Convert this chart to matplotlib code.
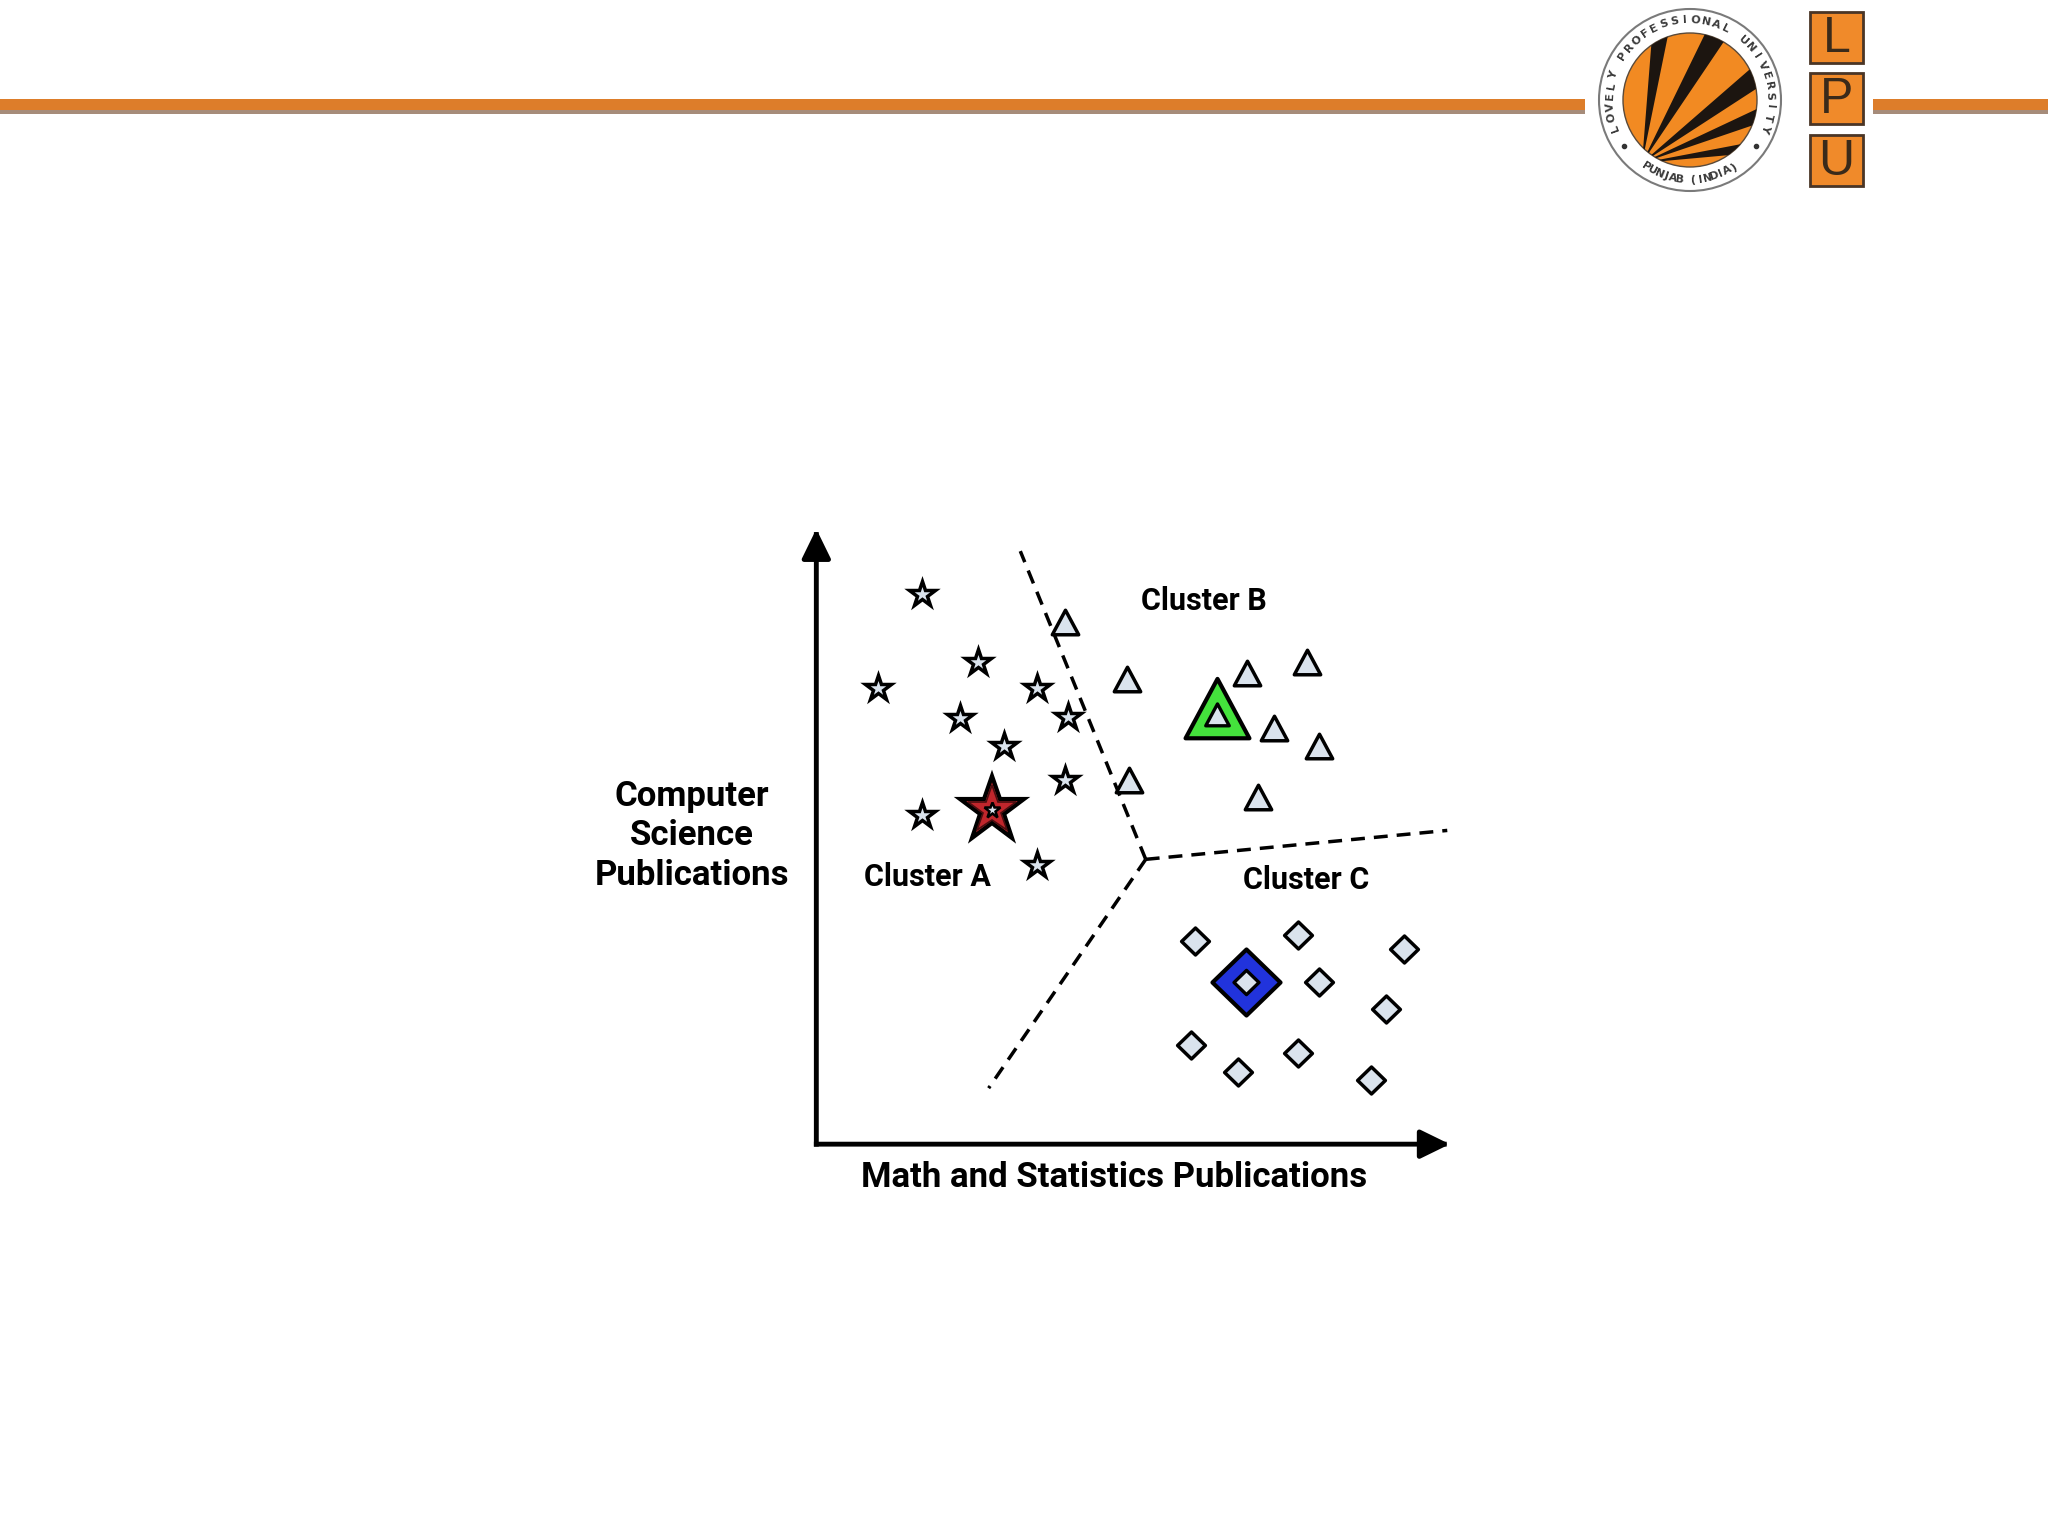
import numpy as np
import matplotlib
matplotlib.use("Agg")
import matplotlib.pyplot as plt
from matplotlib.patches import Circle, Polygon, Rectangle
from matplotlib.path import Path
from matplotlib.markers import MarkerStyle

plt.rcParams['font.family'] = ['Roboto', 'DejaVu Sans']

# Cluster A (stars)
star_x = [1.67, 2.56, 0.97, 3.48, 2.27, 3.98, 2.97, 3.92, 1.67, 3.48]
star_y = [8.94, 7.83, 7.41, 7.41, 6.92, 6.94, 6.48, 5.92, 5.35, 4.54]
# Cluster B (triangles)
tri_x = [3.92, 4.91, 6.80, 7.75, 7.22, 7.94, 4.93, 6.97]
tri_y = [8.49, 7.56, 7.66, 7.83, 6.77, 6.48, 5.92, 5.65]
# Cluster C (diamonds)
dia_x = [5.98, 7.61, 9.28, 7.94, 8.99, 5.92, 6.66, 7.61, 8.76]
dia_y = [3.31, 3.40, 3.18, 2.63, 2.19, 1.61, 1.17, 1.49, 1.04]
# centroids A, B, C
centroid_x = [2.78, 6.33, 6.78]
centroid_y = [5.43, 6.92, 2.63]
# boundaries between clusters (from a common junction)
junction = (5.20, 4.63)
boundary_x = [3.22, 9.96, 2.72]
boundary_y = [9.64, 5.10, 0.91]

cluster_labels = ["Cluster A", "Cluster B", "Cluster C"]
xlabel = "Math and Statistics Publications"
ylabel = "Computer\nScience\nPublications"

LIGHT = '#dae3ed'

fig = plt.figure(figsize=(20.48, 15.36), dpi=100)

# ---- header band + logo (pixel coordinates) ----
bg = fig.add_axes([0, 0, 1, 1])
bg.set_xlim(0, 2048)
bg.set_ylim(1536, 0)
bg.axis('off')

for x0, x1 in [(0, 1585), (1873, 2048)]:
    bg.add_patch(Rectangle((x0, 99), x1 - x0, 11, color='#dd7d2a', lw=0))
    bg.add_patch(Rectangle((x0, 110), x1 - x0, 4, color='#a68c7a', lw=0))

cx, cy = 1690, 100
bg.add_patch(Circle((cx, cy), 91, facecolor='white', edgecolor='#7a7a7a', lw=1.5))
disk = Circle((cx, cy), 67, facecolor='#f28a22', edgecolor='#5a4a3a', lw=1)
bg.add_patch(disk)

fx, fy = 1642, 163
ray_angles = [82, 60, 37, 22, 8]
ray_widths = [3.5, 4.0, 4.0, 3.2, 2.8]
for a, w in zip(ray_angles, ray_widths):
    t1, t2 = np.radians(a - w), np.radians(a + w)
    pts = [(fx, fy),
           (fx + 250 * np.cos(t1), fy - 250 * np.sin(t1)),
           (fx + 250 * np.cos(t2), fy - 250 * np.sin(t2))]
    p = Polygon(pts, closed=True, facecolor='#1c1510', lw=0)
    bg.add_patch(p)
    p.set_clip_path(disk)


def ring_text(txt, a0, a1, r, top=True):
    angs = np.linspace(a0, a1, len(txt))
    for ch, a in zip(txt, angs):
        t = np.radians(a)
        rot = a - 90 if top else a + 90
        bg.text(cx + r * np.cos(t), cy - r * np.sin(t), ch, rotation=rot,
                ha='center', va='center', fontsize=8, color='#3a3a3a',
                family='DejaVu Sans', fontweight='bold', rotation_mode='anchor')


ring_text("LOVELY PROFESSIONAL UNIVERSITY", 200, -20, 80, True)
ring_text("PUNJAB (INDIA)", 237, 303, 80, False)
for a in [215, 325]:
    t = np.radians(a)
    bg.plot(cx + 81 * np.cos(t), cy - 81 * np.sin(t), 'o', ms=3, color='#333333')

for letter, y0 in zip("LPU", [12, 73, 135]):
    bg.add_patch(Rectangle((1810, y0), 53, 51, facecolor='#f08a2a',
                           edgecolor='#4a3526', lw=2))
    bg.text(1836.5, y0 + 27, letter, ha='center', va='center', fontsize=36,
            color='#3a2a1a', family='Liberation Sans')

# ---- cluster chart ----
ax = fig.add_axes([625 / 1568, 1 - 876 / 1176, 485 / 1568, 471 / 1176])
ax.set_xlim(0, 10)
ax.set_ylim(0, 10)
ax.axis('off')
ax.patch.set_alpha(0)

arrow = dict(arrowstyle='-|>,head_length=0.45,head_width=0.22', lw=3.5,
             color='black', mutation_scale=40, shrinkA=0, shrinkB=0,
             capstyle='projecting')
ax.annotate('', xy=(0, 1), xytext=(0, 0), xycoords='axes fraction',
            arrowprops=arrow, annotation_clip=False)
ax.annotate('', xy=(1, 0), xytext=(0, 0), xycoords='axes fraction',
            arrowprops=arrow, annotation_clip=False)

for ex, ey in zip(boundary_x, boundary_y):
    ax.plot([junction[0], ex], [junction[1], ey], ls=(0, (4, 2.6)),
            lw=2.5, color='black')

tri_path = Path([(-1, -0.93), (1, -0.93), (0, 0.93), (-1, -0.93)], closed=True)
tri_c_path = Path([(-1, -0.62), (1, -0.62), (0, 1.24), (-1, -0.62)], closed=True)
dia_path = Path([(0, 0.97), (1, 0), (0, -0.97), (-1, 0), (0, 0.97)], closed=True)
tri_m = MarkerStyle(tri_path, joinstyle='miter')
tri_cm = MarkerStyle(tri_c_path, joinstyle='miter')
dia_m = MarkerStyle(dia_path, joinstyle='miter')
star_m = MarkerStyle('*', joinstyle='miter')

ax.plot(star_x, star_y, ls='none', marker=star_m, ms=19, mfc=LIGHT, mec='black', mew=2.5)
ax.plot(tri_x, tri_y, ls='none', marker=tri_m, ms=19, mfc=LIGHT, mec='black', mew=2.5)
ax.plot(dia_x, dia_y, ls='none', marker=dia_m, ms=20, mfc=LIGHT, mec='black', mew=2.5)

# centroids: big coloured marker with a small light one inside
ax.plot(centroid_x[0], centroid_y[0], marker=star_m, ms=49, mfc='#c0262c', mec='black', mew=3)
ax.plot(centroid_x[0], centroid_y[0], marker=star_m, ms=36, mfc='none', mec='#4a0e10', mew=1.2)
ax.plot(centroid_x[0], centroid_y[0], marker=star_m, ms=12, mfc=LIGHT, mec='black', mew=1.8)
ax.plot(centroid_x[1], centroid_y[1], marker=tri_cm, ms=57, mfc='#44e23c', mec='black', mew=3)
ax.plot(centroid_x[1], centroid_y[1], marker=tri_cm, ms=21, mfc=LIGHT, mec='black', mew=2.4)
ax.plot(centroid_x[2], centroid_y[2], marker=dia_m, ms=49, mfc='#2133dc', mec='black', mew=3)
ax.plot(centroid_x[2], centroid_y[2], marker=dia_m, ms=18, mfc=LIGHT, mec='black', mew=2.4)

lab_pos = [(1.75, 4.35), (6.12, 8.83), (7.73, 4.29)]
for (lx, ly), lab in zip(lab_pos, cluster_labels):
    ax.text(lx, ly, lab, ha='center', va='center', fontsize=22, fontweight='bold')

ax.text(4.70, -0.55, xlabel, ha='center', va='center', fontsize=25, fontweight='bold')
ax.text(-1.96, 5.01, ylabel, ha='center', va='center', fontsize=25,
        fontweight='bold', linespacing=1.25)

fig.savefig('out.png', dpi=100, facecolor='white')
